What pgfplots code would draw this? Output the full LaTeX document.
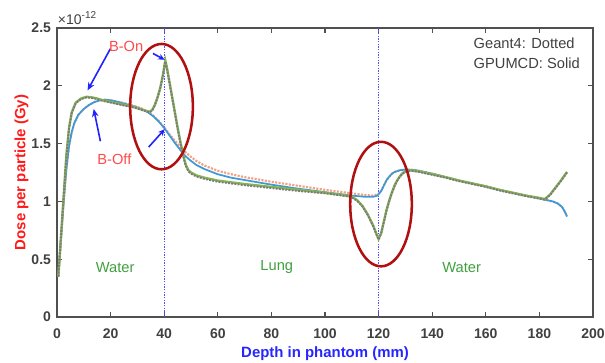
\documentclass[border=0pt]{standalone}
\usepackage{pgfplots}
\pgfplotsset{compat=1.18}
\usepackage{fontspec}
\setmainfont{Liberation Sans}
\usetikzlibrary{arrows.meta}
\definecolor{axgray}{HTML}{505050}
\definecolor{txtgray}{HTML}{404040}
\definecolor{salmon}{HTML}{F4A084}
\definecolor{offblue}{HTML}{3C9AD6}
\definecolor{ongreen}{HTML}{84B84C}
\definecolor{ongray}{HTML}{7E7686}
\definecolor{vline}{HTML}{5050FF}
\definecolor{ellred}{HTML}{B01010}
\definecolor{arrblue}{HTML}{2222FF}
\definecolor{labred}{HTML}{FF4A4A}
\definecolor{labgreen}{HTML}{3FA03F}
\begin{document}
\begin{tikzpicture}
\begin{axis}[
  scale only axis, width=402pt, height=216.75pt,
  xmin=0, xmax=200, ymin=0, ymax=2.5,
  xtick={0,20,...,200}, ytick={0,0.5,...,2.5},
  yticklabels={0,0.5,1,1.5,2,2.5},
  scaled ticks=false,
  /pgf/number format/assume math mode=true,
  tick align=inside, major tick length=3.75pt,
  axis line style={axgray, line width=1.3pt},
  every tick/.style={axgray, line width=1pt},
  tick label style={font=\fontsize{10.5}{12}\selectfont\bfseries, text=txtgray},
  xticklabel style={yshift=-5pt},
  yticklabel style={xshift=-1pt},
  xlabel={Depth in phantom (mm)},
  ylabel={Dose per particle (Gy)},
  xlabel style={font=\fontsize{11.2}{13}\selectfont\bfseries, text=blue!85!white, at={(axis description cs:0.5,-0.128)}, anchor=center},
  ylabel style={font=\fontsize{11.2}{13}\selectfont\bfseries, text=red!90!white, at={(axis description cs:-0.066,0.5)}, anchor=center},
  clip=false,
]
% vertical boundary lines
\addplot[vline, densely dotted, line width=1pt] coordinates {(40,0) (40,2.5)};
\addplot[vline, densely dotted, line width=1pt] coordinates {(120,0) (120,2.5)};

% B-Off Geant4 (dotted)
\addplot[salmon, densely dotted, line width=1.6pt] coordinates {
(0.5,0.35) (1.5,0.68) (2.5,1.00) (3.5,1.28) (4.5,1.48) (5.5,1.60) (6.5,1.68) (8,1.75) (10,1.80) (12,1.835) (14,1.86) (16,1.875) (18,1.88) (20,1.875) (23,1.86) (26,1.845) (29,1.825) (32,1.80) (34,1.775) (36,1.74) (38,1.695) (40,1.64) (42,1.58) (44,1.525) (46,1.47) (48,1.425) (50,1.385) (52,1.35) (55,1.31) (60,1.265) (65,1.235) (70,1.21) (80,1.17) (90,1.135) (100,1.10) (105,1.085) (110,1.07) (115,1.055) (118,1.05) (120,1.065) (121,1.095) (122,1.14) (123,1.185) (124,1.215) (125,1.24) (126,1.255) (128,1.27) (130,1.275) (132,1.275) (135,1.265) (140,1.24) (145,1.21) (150,1.18) (155,1.155) (160,1.13) (165,1.10) (170,1.075) (175,1.05) (180,1.025) (183,1.01) (185,1.0) (187,0.98) (188.5,0.95) (189.5,0.91) (190.3,0.87)};

% B-Off GPUMCD (solid)
\addplot[offblue, line width=1.3pt] coordinates {
(0.5,0.35) (1.5,0.68) (2.5,1.00) (3.5,1.28) (4.5,1.48) (5.5,1.60) (6.5,1.68) (8,1.75) (10,1.80) (12,1.835) (14,1.86) (16,1.875) (18,1.88) (20,1.875) (23,1.86) (26,1.84) (29,1.82) (32,1.795) (34,1.77) (36,1.735) (38,1.69) (40,1.635) (42,1.57) (44,1.505) (46,1.445) (48,1.39) (50,1.35) (52,1.315) (55,1.28) (60,1.235) (65,1.205) (70,1.185) (80,1.145) (90,1.11) (100,1.08) (105,1.065) (110,1.05) (115,1.04) (118,1.04) (119.5,1.05) (121,1.09) (122,1.14) (123,1.185) (124,1.215) (125,1.24) (126,1.255) (128,1.27) (130,1.275) (132,1.275) (135,1.265) (140,1.24) (145,1.21) (150,1.18) (155,1.155) (160,1.13) (165,1.10) (170,1.075) (175,1.05) (180,1.025) (183,1.01) (185,1.0) (187,0.98) (188.5,0.95) (189.5,0.91) (190.3,0.87)};

% B-On GPUMCD (solid)
\addplot[ongreen, line width=1.8pt] coordinates {
(0.5,0.35) (1.5,0.70) (2.5,1.05) (3.5,1.40) (4.5,1.64) (5.5,1.77) (7,1.855) (9,1.89) (11,1.905) (13,1.90) (15,1.89) (17,1.875) (20,1.86) (23,1.845) (26,1.83) (29,1.815) (31,1.80) (33,1.785) (34.5,1.775) (35.5,1.79) (36.5,1.835) (37.5,1.90) (38.5,1.98) (39.5,2.09) (40.4,2.22) (41,2.16) (42,2.03) (43,1.90) (44,1.77) (45,1.64) (46,1.52) (47,1.41) (48,1.32) (49,1.27) (50,1.25) (52,1.225) (55,1.205) (60,1.18) (65,1.165) (70,1.15) (80,1.125) (90,1.10) (100,1.075) (105,1.06) (108,1.05) (110,1.04) (112,1.01) (114,0.96) (116,0.885) (118,0.79) (119,0.73) (120,0.675) (121,0.73) (122,0.83) (123,0.93) (124,1.01) (125,1.08) (126,1.14) (127,1.185) (128,1.22) (129,1.245) (130,1.26) (132,1.27) (135,1.26) (140,1.235) (145,1.21) (150,1.18) (155,1.155) (160,1.13) (165,1.10) (170,1.075) (175,1.05) (180,1.03) (182,1.02) (184,1.06) (186,1.12) (188,1.18) (190.3,1.255)};

% B-On Geant4 (dotted)
\addplot[ongray, densely dotted, line width=1.4pt] coordinates {
(0.5,0.35) (1.5,0.70) (2.5,1.05) (3.5,1.39) (4.5,1.63) (5.5,1.765) (7,1.85) (9,1.885) (11,1.90) (13,1.895) (15,1.885) (17,1.87) (20,1.855) (23,1.84) (26,1.825) (29,1.81) (31,1.795) (33,1.78) (34.5,1.77) (35.5,1.785) (36.5,1.83) (37.5,1.895) (38.5,1.975) (39.5,2.085) (40.4,2.21) (41,2.15) (42,2.02) (43,1.89) (44,1.76) (45,1.63) (46,1.51) (47,1.40) (48,1.31) (49,1.26) (50,1.24) (52,1.215) (55,1.195) (60,1.17) (65,1.155) (70,1.14) (80,1.115) (90,1.09) (100,1.07) (105,1.055) (108,1.045) (110,1.035) (112,1.005) (114,0.955) (116,0.88) (118,0.785) (119,0.725) (120,0.67) (121,0.725) (122,0.825) (123,0.925) (124,1.005) (125,1.075) (126,1.135) (127,1.18) (128,1.215) (129,1.24) (130,1.255) (132,1.265) (135,1.255) (140,1.23) (145,1.205) (150,1.175) (155,1.15) (160,1.125) (165,1.095) (170,1.07) (175,1.045) (180,1.025) (182,1.015) (184,1.055) (186,1.115) (188,1.175) (190.3,1.25)};

% ellipses
\draw[ellred, line width=1.9pt] (axis cs:39,1.82) ellipse [x radius=23.5pt, y radius=47pt];
\draw[ellred, line width=1.9pt] (axis cs:120.9,0.977) ellipse [x radius=23.1pt, y radius=46.7pt];

% arrows
\draw[arrblue, line width=1.2pt, -{Stealth[length=6pt,width=5pt]}] (axis cs:19.9,2.32) -- (axis cs:11.4,1.96);
\draw[arrblue, line width=1.2pt, -{Stealth[length=6pt,width=5pt]}] (axis cs:16.2,1.52) -- (axis cs:13.7,1.80);
\draw[arrblue, line width=1.2pt, -{Stealth[length=5pt,width=4.5pt]}] (axis cs:35.8,2.28) -- (axis cs:40.2,2.225);
\draw[arrblue, line width=1.2pt, -{Stealth[length=5pt,width=4.5pt]}] (axis cs:34.2,1.47) -- (axis cs:40.2,1.625);

% labels
\node[text=labred, font=\fontsize{11}{13}\selectfont] at (axis cs:25.8,2.34) {B-On};
\node[text=labred, font=\fontsize{11}{13}\selectfont] at (axis cs:21.4,1.365) {B-Off};
\node[text=labgreen, font=\fontsize{11}{13}\selectfont] at (axis cs:21.7,0.43) {Water};
\node[text=labgreen, font=\fontsize{11}{13}\selectfont] at (axis cs:82,0.43) {Lung};
\node[text=labgreen, font=\fontsize{11}{13}\selectfont] at (axis cs:151,0.43) {Water};
\node[text=txtgray, font=\fontsize{11}{14.6}\selectfont, anchor=north west, align=left, inner sep=0pt] at (axis cs:155.4,2.415) {Geant4: Dotted\\GPUMCD: Solid};
\node[text=txtgray, font=\fontsize{10.5}{12}\selectfont, anchor=south west, inner sep=0pt] at ([xshift=0.5pt,yshift=2pt]rel axis cs:0,1) {×10\raisebox{0.85ex}{\fontsize{7.5}{8}\selectfont -12}};
\end{axis}
\pgfresetboundingbox
\path[use as bounding box] (-42.75pt,-33.75pt) rectangle (411pt,237.75pt);
\end{tikzpicture}
\end{document}
